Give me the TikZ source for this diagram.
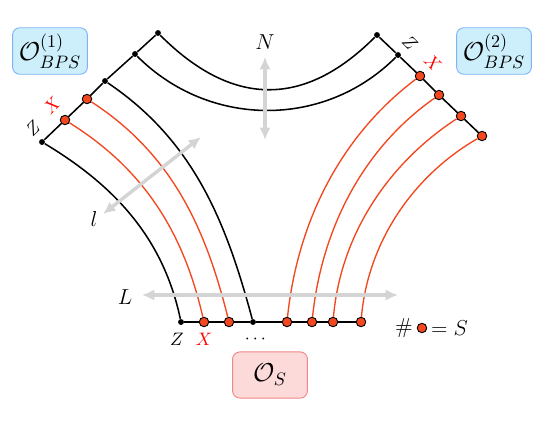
\documentclass[tikz,border=0pt]{standalone}
\usepackage{amsmath,amssymb}
\usepackage{tikz}
\usetikzlibrary{arrows.meta,positioning,calc}
\definecolor{xred}{HTML}{F2471F}
\definecolor{bpsfill}{HTML}{CDEFFC}
\definecolor{bpsline}{HTML}{7FB3F5}
\definecolor{sfill}{HTML}{FDDADA}
\definecolor{sline}{HTML}{F08585}
\tikzset{
  % punkter
  bdot/.style={circle,fill=black,inner sep=0pt,minimum size=1.15mm},
  rdot/.style={circle,fill=xred,draw=black,line width=0.5pt,inner sep=0pt,
               minimum size=1.85mm},
  % linjer
  bl/.style={draw=black,line width=0.85pt},
  rl/.style={draw=xred,line width=0.75pt},
  garr/.style={{Latex[length=2.4mm,width=2.2mm]}-{Latex[length=2.4mm,width=2.2mm]},
               draw=black!17,line width=1.9pt},
  lbl/.style={inner sep=1pt,font=\large},
  slbl/.style={inner sep=1pt},
  opbox/.style={rounded corners=4pt,line width=0.5pt,minimum width=1.46cm,
                minimum height=0.9cm,font=\Large},
  bps/.style={opbox,fill=bpsfill,draw=bpsline},
  sbox/.style={opbox,fill=sfill,draw=sline},
}
\begin{document}
\begin{tikzpicture}[x=0.0195cm,y=-0.0195cm]
\useasboundingbox (0,0) rectangle (550,425);
  % venstre kant
  \node[bdot] (l0) at (42,142) {};
  \node[rdot] (l1) at (65,120) {};
  \node[rdot] (l2) at (87,99) {};
  \node[bdot] (l3) at (105,81) {};
  \node[bdot] (l4) at (135,54) {};
  \node[bdot] (l5) at (158,33) {};
  % hoyre kant
  \node[bdot] (r0) at (377,35) {};
  \node[bdot] (r1) at (398,55) {};
  \node[rdot] (r2) at (420,76) {};
  \node[rdot] (r3) at (439,95) {};
  \node[rdot] (r4) at (461,116) {};
  \node[rdot] (r5) at (482,136) {};
  % bunn
  \node[bdot] (b0) at (181,322) {};
  \node[rdot] (b1) at (204,322) {};
  \node[rdot] (b2) at (229,322) {};
  \node[bdot] (b3) at (253,322) {};
  \node[rdot] (b4) at (287,322) {};
  \node[rdot] (b5) at (312,322) {};
  \node[rdot] (b6) at (333,322) {};
  \node[rdot] (b7) at (361,322) {};
  \draw[bl] (l0) -- (l1) -- (l2) -- (l3) -- (l4) -- (l5);
  \draw[bl] (r0) -- (r1) -- (r2) -- (r3) -- (r4) -- (r5);
  \draw[bl] (b0) -- (b1) -- (b2) -- (b3) -- (b4) -- (b5) -- (b6) -- (b7);
  \draw[bl] (l5) to[out=-45,in=-135,looseness=1.2] (r0);
  \draw[bl] (l4) to[out=-45,in=-135] (r1);
  \draw[bl] (l0) to[out=-31,in=102,looseness=0.95] (b0);
  \draw[rl] (l1) to[out=-32,in=103,looseness=0.95] (b1);
  \draw[rl] (l2) to[out=-33,in=104,looseness=0.95] (b2);
  \draw[bl] (l3) to[out=-34,in=105,looseness=0.95] (b3);
  \draw[rl] (r2) to[out=-143,in=84,looseness=0.9] (b4);
  \draw[rl] (r3) to[out=-145,in=84,looseness=0.9] (b5);
  \draw[rl] (r4) to[out=-147,in=85,looseness=0.9] (b6);
  \draw[rl] (r5) to[out=-150,in=85,looseness=0.9] (b7);
  % etiketter
  \node[slbl,rotate=45] (zl) at (33,128) {$Z$};
  \node[slbl,rotate=45,text=red] (xl) at (52,105) {$X$};
  \node[slbl,rotate=-45] (zr) at (410,43) {$Z$};
  \node[slbl,rotate=-45,text=red] (xr) at (433,63) {$X$};
  \node[slbl] (zb) at (177,339) {$Z$};
  \node[slbl,text=red] (xb) at (204,339) {$X$};
  \node[slbl] (db) at (257,339) {$\cdots$};
  % piler
  \coordinate (n1) at (265,57);
  \coordinate (n2) at (265,140);
  \draw[garr] (n1) -- (n2);
  \node[lbl] (nl) at (265,42) {$N$};
  \coordinate (ll1) at (103,214);
  \coordinate (ll2) at (201,137);
  \draw[garr] (ll1) -- (ll2);
  \node[lbl] (lsm) at (94,219) {$l$};
  \coordinate (L1) at (142,295);
  \coordinate (L2) at (398,295);
  \draw[garr] (L1) -- (L2);
  \node[lbl] (lbig) at (125,297) {$L$};
  % bokser
  \node[bps] (o1) at (50,51) {$\mathcal{O}_{BPS}^{(1)}$};
  \node[bps] (o2) at (494,51) {$\mathcal{O}_{BPS}^{(2)}$};
  \node[sbox] (os) at (270,375) {$\mathcal{O}_S$};
  % forklaring
  \node[lbl] (hash) at (404,328) {$\#$};
  \node[rdot,right=1pt of hash] (key) {};
  \node[lbl,right=1pt of key] (eqs) {$=S$};
\end{tikzpicture}
\end{document}
